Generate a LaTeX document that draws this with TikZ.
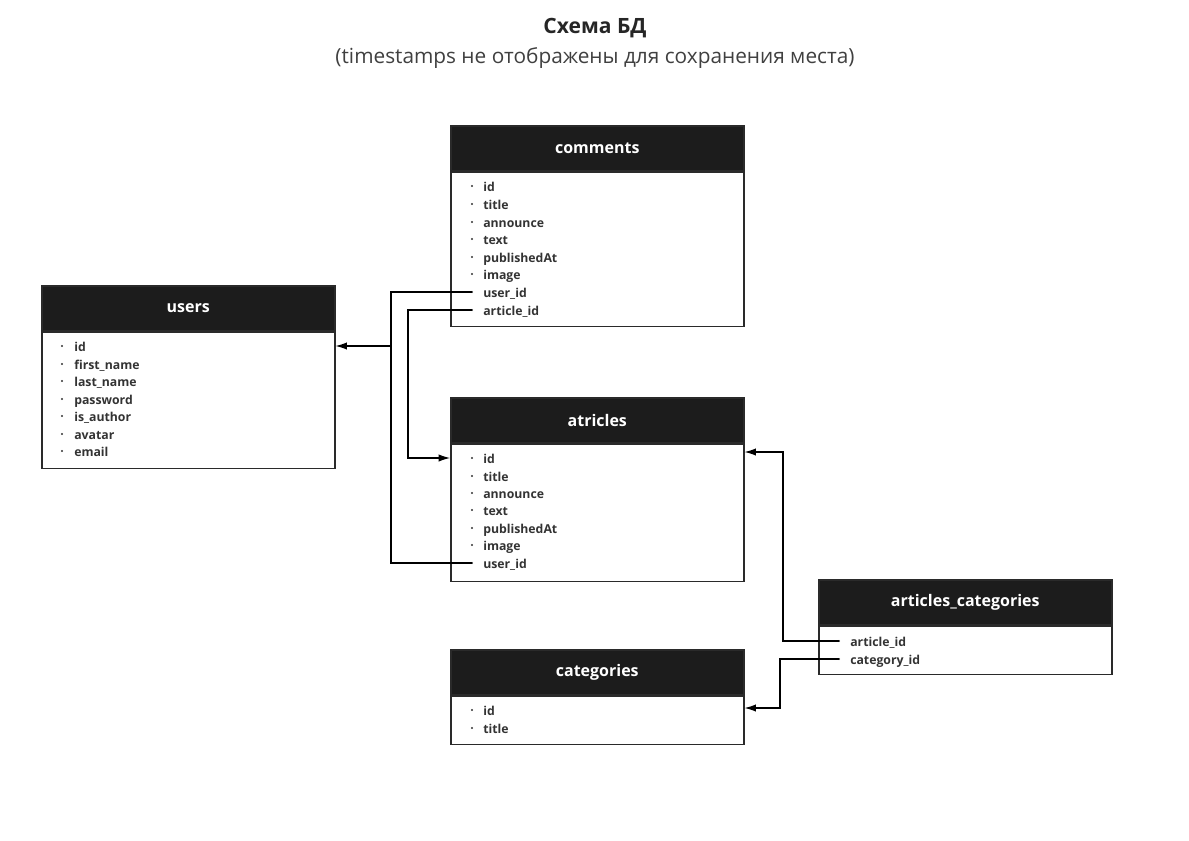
\documentclass[tikz,border=0pt]{standalone}
\usepackage{fontspec}
\setmainfont{Open Sans}
\usetikzlibrary{arrows.meta}

\definecolor{hdr}{HTML}{1C1C1C}
\definecolor{edge}{HTML}{2A2A2A}
\definecolor{itm}{HTML}{333333}

\tikzset{
  head/.style={fill=hdr,draw=edge,line width=1.2pt,text=white,font=\fontsize{12}{14}\selectfont\bfseries,
    minimum width=219.75pt,minimum height=33.75pt,inner sep=0pt,anchor=north west},
  body/.style={draw=edge,line width=1.2pt,minimum width=219.75pt,inner sep=0pt,anchor=north west},
  item/.style={anchor=west,inner sep=0pt,text=itm,font=\fontsize{9.2}{10}\selectfont\bfseries,
    text height=1.45ex,text depth=.35ex,yshift=-1.2pt},
  link/.style={draw=black,line width=0.8pt},
  tip/.style={-{Latex[length=8.5pt,width=5.5pt]}}
}
\newcommand{\dotat}[1]{\fill[itm] (#1) circle (1.2);}

\begin{document}
\begin{tikzpicture}[x=0.75pt,y=-0.75pt]
\useasboundingbox (0,0) rectangle (1189,840);

\node[font=\fontsize{15.8}{18}\selectfont\bfseries,text=black!85] (title) at (595,28) {Схема БД};
\node[font=\fontsize{15.6}{18}\selectfont,text=black!75] (subtitle) at (595,58) {(timestamps не отображены для сохранения места)};

% users
\node[head] (uh) at (41,285) {users};
\node[body,minimum height=102pt] (ub) at (uh.south west) {};
\node[item] (us id) at (74,346) {id};
\node[item] (us fn) at (74,364) {first\_name};
\node[item] (us ln) at (74,381) {last\_name};
\node[item] (us pw) at (74,399) {password};
\node[item] (us au) at (74,416) {is\_author};
\node[item] (us av) at (74,434) {avatar};
\node[item] (us em) at (74,451) {email};
\foreach \y in {346,364,381,399,416,434,451} {\dotat{62,\y}}

% comments
\node[head] (ch) at (450,125) {comments};
\node[body,minimum height=115.5pt] (cb) at (ch.south west) {};
\node[item] (cm id) at (483,186) {id};
\node[item] (cm ti) at (483,204) {title};
\node[item] (cm an) at (483,222) {announce};
\node[item] (cm tx) at (483,239) {text};
\node[item] (cm pa) at (483,257) {publishedAt};
\node[item] (cm im) at (483,274) {image};
\node[item] (cm us) at (483,292) {user\_id};
\node[item] (cm ar) at (483,310) {article\_id};
\foreach \y in {186,204,222,239,257,274,292,310} {\dotat{472,\y}}
\coordinate (cm user) at (472,292);
\coordinate (cm art) at (472,310);

% atricles
\node[head] (ah) at (450,397) {atricles};
\node[body,minimum height=102.75pt] (ab) at (ah.south west) {};
\node[item] (at id) at (483,458) {id};
\node[item] (at ti) at (483,476) {title};
\node[item] (at an) at (483,493) {announce};
\node[item] (at tx) at (483,510) {text};
\node[item] (at pa) at (483,528) {publishedAt};
\node[item] (at im) at (483,545) {image};
\node[item] (at us) at (483,563) {user\_id};
\foreach \y in {458,476,493,510,528,545,563} {\dotat{472,\y}}
\coordinate (at user) at (472,563);

% articles_categories
\node[head] (ach) at (818,579) {articles\_categories};
\node[body,minimum height=36pt] (acb) at (ach.south west) {};
\node[item] (ac ar) at (850,641) {article\_id};
\node[item] (ac ca) at (850,659) {category\_id};
\foreach \y in {641,659} {\dotat{839,\y}}
\coordinate (ac art) at (839,641);
\coordinate (ac cat) at (839,659);

% categories
\node[head] (kh) at (450,649) {categories};
\node[body,minimum height=36pt] (kb) at (kh.south west) {};
\node[item] (ct id) at (483,710) {id};
\node[item] (ct ti) at (483,728) {title};
\foreach \y in {710,728} {\dotat{472,\y}}

% links
\draw[link,tip] (cm user) -- (391,292) -- (391,346) -- (ub.east |- 0,346);
\draw[link] (at user) -- (391,563) -- (391,346);
\draw[link,tip] (cm art) -- (408,310) -- (408,458) -- (ab.west |- 0,458);
\draw[link,tip] (ac art) -- (783,641) -- (783,452) -- (ab.east |- 0,452);
\draw[link,tip] (ac cat) -- (780,659) -- (780,708) -- (kb.east |- 0,708);
\end{tikzpicture}
\end{document}
